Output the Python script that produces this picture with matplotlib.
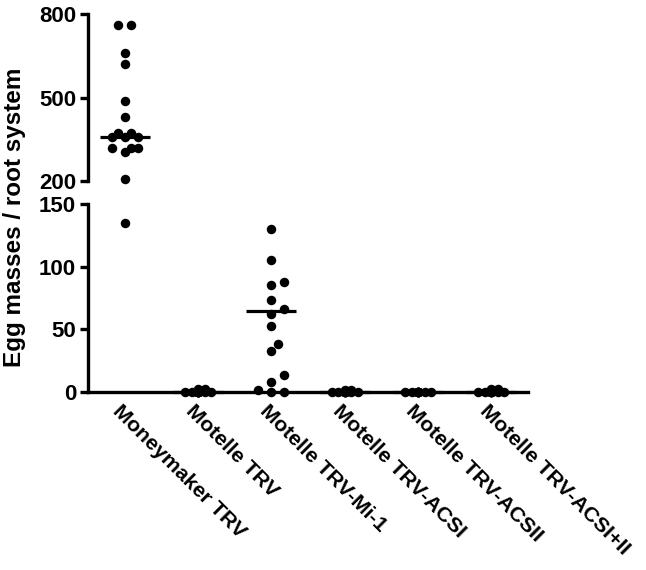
import numpy as np
import matplotlib
matplotlib.use("Agg")
import matplotlib.pyplot as plt
import matplotlib.transforms as mtransforms

plt.rcParams['font.family'] = ['Liberation Sans', 'DejaVu Sans']
plt.rcParams['font.weight'] = 'bold'

# ---------------- data ----------------
categories = ["Moneymaker TRV", "Motelle TRV", "Motelle TRV-Mi-1",
              "Motelle TRV-ACSI", "Motelle TRV-ACSII", "Motelle TRV-ACSI+II"]

moneymaker = [760, 760, 660, 620, 489, 429, 372, 372, 358, 358, 358,
              320, 304, 317, 320, 206, 135]
motelle = [0, 0, 0, 2, 0, 0, 0, 0, 0, 0, 0, 2, 0, 0, 0]
mi1 = [130, 105, 88, 85, 73.6, 66, 62, 52.4, 38.6, 32.8, 13.5, 8.2, 1.8, 0, 0]
acsi = [1.5, 0, 0, 0, 0, 0, 0, 0, 0, 0, 0, 1.5]
acsii = [0, 0, 0, 0, 0, 0, 0, 0, 0, 0, 0, 0]
acsi_ii = [2, 0, 0, 0, 0, 0, 0, 0, 0, 0, 0, 2]
groups = [moneymaker, motelle, mi1, acsi, acsii, acsi_ii]

center_lines = [357, 0, 65, 0, 0, 0]

lower_ticks = [0, 50, 100, 150]
upper_ticks = [200, 500, 800]

# ---------------- figure ----------------
W, H = 646, 570
fig = plt.figure(figsize=(W / 100, H / 100), dpi=100)

def fx(px):
    return px / W

def fy(py):
    return 1 - py / H

left_px, right_px = 88, 528
ax_up = fig.add_axes([fx(left_px), fy(181), fx(right_px - left_px), (181 - 14) / H])
ax_lo = fig.add_axes([fx(left_px), fy(392), fx(right_px - left_px), (392 - 204) / H])

FS = 16
XFS = 15.4
xlim = (-0.5, 5.5)
for ax in (ax_up, ax_lo):
    ax.set_xlim(*xlim)
    for s in ('top', 'right'):
        ax.spines[s].set_visible(False)
    ax.spines['left'].set_linewidth(2.4)
    ax.spines['bottom'].set_linewidth(2.4)
    ax.tick_params(axis='y', length=5.5, width=2.4, pad=3, labelsize=FS)
    ax.patch.set_alpha(0)

ax_up.set_ylim(200, 800)
ax_lo.set_ylim(0, 150)
ax_up.spines['bottom'].set_visible(False)
ax_up.set_xticks([])
ax_up.set_yticks(upper_ticks)
ax_lo.set_yticks(lower_ticks)
ax_up.set_yticklabels([str(t) for t in upper_ticks], fontweight='bold', fontsize=FS)
ax_lo.set_yticklabels([str(t) for t in lower_ticks], fontweight='bold', fontsize=FS)

ax_lo.set_xticks(range(len(categories)))
ax_lo.set_xticklabels(categories, rotation=-45, ha='left', va='top',
                      rotation_mode='anchor', fontsize=XFS, fontweight='bold')
ax_lo.tick_params(axis='x', length=0, pad=7)
for lab in ax_lo.get_xticklabels():
    lab.set_transform(lab.get_transform() +
                      mtransforms.ScaledTranslation(-2 / 100, 0, fig.dpi_scale_trans))

# ---------------- swarm placement ----------------
diam = 9.5          # marker diameter in px
msize = diam * 72 / 100
x_px_per_unit = (right_px - left_px) / (xlim[1] - xlim[0])
h = 6.5
dmin = diam * 1.0
maxhalf = 16

def ypix(v):
    if v >= 200:
        return ax_up.transData.transform((0, v))[1]
    return ax_lo.transData.transform((0, v))[1]

for gi, vals in enumerate(groups):
    vals_arr = np.asarray(vals, dtype=float)
    order = np.argsort(vals_arr, kind='stable')
    ys_px = np.array([ypix(v) for v in vals_arr])
    xs_px = np.zeros(len(vals_arr))
    done = []
    for idx in order:
        yp = ys_px[idx]
        cands = [0.0]
        k = 1
        while k * h <= maxhalf + 3:
            cands += [k * h, -k * h]
            k += 1
        best, bestd, chosen = None, -1, None
        for c in cands:
            dists = [np.hypot(c - xs_px[j], yp - ys_px[j]) for j in done]
            md = min(dists) if dists else 1e9
            if md >= dmin:
                chosen = c
                break
            if md > bestd + 1e-6:
                bestd, best = md, c
        if chosen is None:
            chosen = best
        xs_px[idx] = chosen
        done.append(idx)
    # recentre rows of identical values when that causes no new overlap
    for v in np.unique(vals_arr):
        members = np.where(vals_arr == v)[0]
        if len(members) < 2:
            continue
        shift = -xs_px[members].mean()
        trial = xs_px.copy()
        trial[members] += shift
        others = [i for i in range(len(vals_arr)) if i not in members]
        ok = all(min(np.hypot(trial[m] - trial[o], ys_px[m] - ys_px[o])
                     for o in others) >= dmin * 0.9 for m in members) if others else True
        if ok:
            xs_px = trial
    xs = gi + xs_px / x_px_per_unit
    up = vals_arr >= 200
    lo = ~up
    if up.any():
        ax_up.plot(xs[up], vals_arr[up], 'o', color='black', ms=msize,
                   mec='black', mew=0, clip_on=False, zorder=3)
    if lo.any():
        ax_lo.plot(xs[lo], vals_arr[lo], 'o', color='black', ms=msize,
                   mec='black', mew=0, clip_on=False, zorder=3)

# center lines
half = 25 / x_px_per_unit
for gi, m in enumerate(center_lines):
    ax = ax_up if m >= 200 else ax_lo
    ax.plot([gi - half, gi + half], [m, m], color='black', lw=2.3,
            solid_capstyle='butt', clip_on=False, zorder=4)

fig.text(fx(15), fy(217), "Egg masses / root system", rotation=90,
         ha='center', va='center', fontsize=17.5, fontweight='bold')

fig.savefig("out.png", dpi=100)
